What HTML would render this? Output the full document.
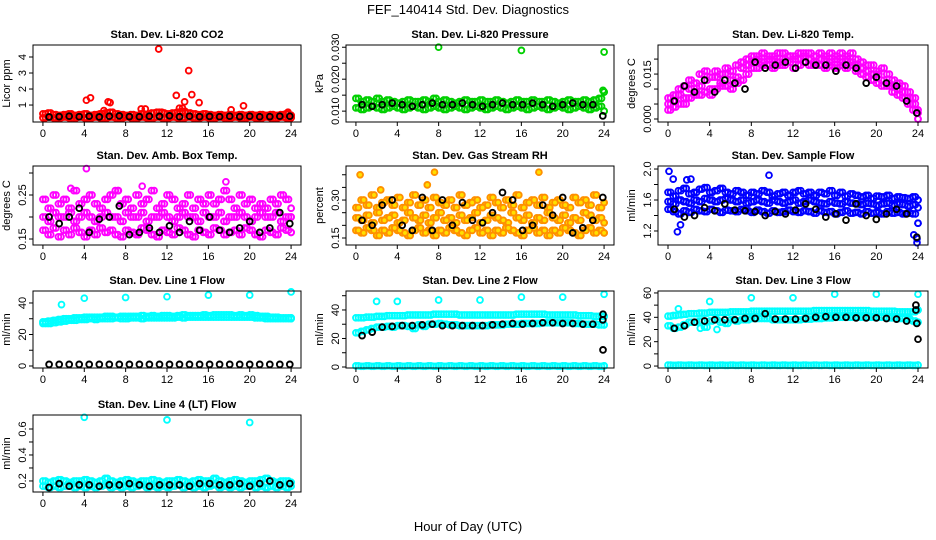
<!DOCTYPE html>
<html><head><meta charset="utf-8"><style>
html,body{margin:0;padding:0;background:#fff;}
svg{display:block;font-family:"Liberation Sans",sans-serif;}
</style></head><body>
<svg id="chart" width="936" height="540" viewBox="0 0 936 540">
<text x="468" y="14" text-anchor="middle" font-size="13">FEF_140414  Std. Dev. Diagnostics</text>
<text x="468" y="531" text-anchor="middle" font-size="13">Hour of Day (UTC)</text>
</svg>
<script>
// ---- data ----
const xTicks = [0,4,8,12,16,20,24];
const co2A = [0.45,0.5,0.4,0.35,0.4,0.45,0.35,0.4,0.45,0.35,0.4,0.45,0.5,0.55,0.45,0.4,0.35,0.4,0.35,0.45,0.4,0.5,0.55,0.5,0.45,0.5,0.55,0.6,0.5,0.45,0.4,0.45,0.4,0.35,0.4,0.35,0.4,0.35,0.4,0.35,0.4,0.35,0.4,0.35,0.4,0.35,0.4,0.45,0.35];
const co2B = [0.2,0.25,0.2,0.2,0.25,0.2,0.2,0.25,0.2,0.2,0.25,0.2,0.2,0.25,0.2,0.2,0.25,0.2,0.2,0.25,0.2,0.2,0.25,0.2,0.2,0.25,0.2,0.2,0.25,0.2,0.2,0.25,0.2,0.2,0.25,0.2,0.2,0.25,0.2,0.2,0.25,0.2,0.2,0.25,0.2,0.2,0.25,0.2,0.2];
const co2Black = [0.25,0.28,0.3,0.27,0.3,0.26,0.3,0.32,0.28,0.27,0.3,0.29,0.33,0.27,0.3,0.28,0.29,0.27,0.3,0.28,0.3,0.27,0.28,0.3,0.3];
const co2OutX = [4.2,4.6,6.3,6.5,5.9,9.5,9.9,11.2,11.5,12.9,13.2,13.5,13.7,14.1,14.4,15.1,18.2,19.4,23.7];
const co2OutY = [1.3,1.45,1.2,1.15,0.65,0.75,0.75,4.5,0.55,1.6,0.8,0.8,1.2,3.15,1.65,1.15,0.7,0.95,0.55];

const pressA = [0.014,0.013,0.0135,0.013,0.014,0.013,0.0135,0.013,0.0125,0.013,0.0135,0.013,0.013,0.0135,0.013,0.014,0.013,0.0135,0.013,0.0125,0.013,0.0135,0.013,0.013,0.0135,0.013,0.013,0.0135,0.013,0.0125,0.013,0.0135,0.013,0.013,0.0135,0.013,0.013,0.0135,0.013,0.0125,0.013,0.0135,0.013,0.013,0.0135,0.013,0.0135,0.014,0.016];
const pressB = [0.011,0.0105,0.011,0.0115,0.011,0.0105,0.011,0.0115,0.011,0.0105,0.011,0.0115,0.011,0.0105,0.011,0.0115,0.011,0.0105,0.011,0.0115,0.011,0.0105,0.011,0.0115,0.011,0.0105,0.011,0.0115,0.011,0.0105,0.011,0.0115,0.011,0.0105,0.011,0.0115,0.011,0.0105,0.011,0.0115,0.011,0.0105,0.011,0.0115,0.011,0.0105,0.011,0.0115,0.010];
const pressBlack = [0.012,0.0115,0.012,0.0125,0.012,0.0115,0.012,0.0125,0.012,0.012,0.0125,0.012,0.0115,0.012,0.0125,0.012,0.012,0.0125,0.012,0.0115,0.012,0.0125,0.012,0.012,0.0085];
const pressOutX = [8,16,24,23.9];
const pressOutY = [0.030,0.029,0.0285,0.0165];

const tempA = [.007,.008,.010,.011,.013,.012,.015,.016,.014,.016,.015,.017,.016,.018,.019,.020,.021,.021,.022,.021,.021,.022,.022,.021,.021,.022,.022,.022,.021,.022,.021,.022,.021,.022,.021,.022,.020,.019,.018,.018,.016,.017,.015,.013,.012,.011,.009,.007,.003];
const tempB = [.003,.004,.005,.005,.007,.008,.008,.009,.008,.010,.011,.011,.010,.012,.013,.015,.017,.017,.018,.018,.017,.018,.018,.019,.017,.018,.019,.018,.018,.018,.017,.018,.017,.018,.017,.018,.016,.015,.014,.013,.012,.011,.011,.009,.008,.007,.005,.003,.000];
const tempC = [.005,.006,.008,.007,.010,.009,.011,.013,.010,.014,.012,.015,.013,.014,.017,.018,.019,.020,.019,.020,.020,.019,.020,.021,.020,.020,.021,.020,.019,.020,.020,.019,.020,.019,.020,.019,.018,.017,.016,.015,.015,.013,.012,.011,.010,.009,.007,.005,.002];
const tempBlack = [.006,.011,.009,.013,.009,.013,.012,.010,.019,.017,.018,.019,.017,.019,.018,.018,.016,.018,.017,.012,.014,.012,.011,.006,.002];

const ambA = [0.24,0.22,0.25,0.23,0.24,0.22,0.26,0.23,0.24,0.25,0.23,0.22,0.24,0.25,0.26,0.23,0.24,0.22,0.25,0.23,0.24,0.26,0.22,0.23,0.25,0.24,0.22,0.23,0.25,0.22,0.24,0.23,0.25,0.23,0.24,0.26,0.24,0.22,0.25,0.23,0.24,0.22,0.23,0.22,0.24,0.23,0.25,0.24,0.22];
const ambB = [0.2,0.19,0.21,0.2,0.2,0.21,0.19,0.2,0.21,0.2,0.19,0.2,0.21,0.2,0.2,0.19,0.21,0.2,0.2,0.21,0.19,0.2,0.2,0.21,0.2,0.19,0.2,0.21,0.2,0.2,0.19,0.21,0.2,0.2,0.21,0.19,0.2,0.2,0.21,0.2,0.19,0.2,0.21,0.2,0.2,0.21,0.19,0.2,0.2];
const ambC = [0.17,0.16,0.175,0.155,0.17,0.16,0.175,0.165,0.155,0.17,0.16,0.175,0.165,0.17,0.16,0.155,0.17,0.165,0.16,0.175,0.17,0.16,0.155,0.17,0.165,0.16,0.175,0.17,0.16,0.155,0.17,0.165,0.16,0.175,0.17,0.16,0.165,0.17,0.16,0.175,0.17,0.16,0.155,0.17,0.165,0.16,0.175,0.17,0.165];
const ambBlack = [0.2,0.185,0.2,0.22,0.165,0.195,0.2,0.225,0.16,0.165,0.175,0.165,0.18,0.165,0.19,0.17,0.2,0.17,0.165,0.175,0.19,0.165,0.175,0.21,0.185];
const ambOutX = [4.2,17.7,2.7,9.6,7.3];
const ambOutY = [0.31,0.28,0.265,0.27,0.26];

const rhA = [0.27,0.3,0.28,0.32,0.27,0.29,0.3,0.28,0.31,0.27,0.29,0.32,0.28,0.3,0.27,0.31,0.29,0.28,0.3,0.27,0.32,0.28,0.29,0.3,0.27,0.28,0.31,0.29,0.27,0.3,0.28,0.32,0.27,0.29,0.3,0.28,0.31,0.27,0.29,0.3,0.28,0.27,0.31,0.29,0.3,0.28,0.32,0.27,0.29];
const rhB = [0.23,0.22,0.24,0.21,0.25,0.22,0.23,0.24,0.21,0.22,0.25,0.23,0.22,0.24,0.21,0.23,0.25,0.22,0.23,0.21,0.24,0.22,0.23,0.25,0.21,0.22,0.24,0.23,0.22,0.21,0.25,0.23,0.22,0.24,0.21,0.23,0.22,0.25,0.23,0.22,0.24,0.21,0.23,0.22,0.25,0.24,0.22,0.23,0.21];
const rhC = [0.18,0.17,0.19,0.18,0.16,0.18,0.17,0.19,0.18,0.17,0.16,0.18,0.19,0.17,0.18,0.16,0.18,0.17,0.19,0.18,0.17,0.16,0.18,0.19,0.17,0.18,0.16,0.18,0.17,0.19,0.18,0.17,0.16,0.18,0.19,0.17,0.18,0.16,0.18,0.17,0.19,0.18,0.17,0.16,0.18,0.19,0.17,0.18,0.17];
const rhBlack = [0.22,0.2,0.28,0.3,0.2,0.18,0.31,0.18,0.3,0.2,0.29,0.22,0.21,0.25,0.33,0.3,0.18,0.2,0.28,0.24,0.31,0.17,0.19,0.22,0.31];
const rhOutX = [0.4,7.6,6.9,17.7,2.4];
const rhOutY = [0.40,0.41,0.36,0.41,0.34];

const flowA = [1.7,1.65,1.72,1.75,1.68,1.7,1.74,1.76,1.7,1.72,1.75,1.7,1.68,1.72,1.7,1.66,1.7,1.68,1.72,1.7,1.65,1.68,1.7,1.66,1.7,1.72,1.68,1.7,1.66,1.7,1.68,1.72,1.66,1.7,1.65,1.68,1.66,1.64,1.66,1.62,1.65,1.64,1.66,1.62,1.64,1.63,1.62,1.64,1.6];
const flowB = [1.58,1.55,1.6,1.58,1.56,1.6,1.58,1.62,1.6,1.58,1.6,1.62,1.6,1.58,1.6,1.56,1.58,1.6,1.58,1.56,1.6,1.58,1.56,1.58,1.6,1.56,1.58,1.6,1.58,1.56,1.55,1.58,1.56,1.55,1.58,1.56,1.55,1.54,1.56,1.55,1.53,1.55,1.56,1.53,1.55,1.54,1.52,1.54,1.5];
const flowC = [1.48,1.45,1.42,1.46,1.44,1.48,1.46,1.45,1.48,1.46,1.44,1.47,1.46,1.45,1.48,1.46,1.44,1.47,1.45,1.43,1.46,1.44,1.45,1.47,1.45,1.44,1.46,1.45,1.43,1.46,1.44,1.45,1.42,1.44,1.46,1.43,1.44,1.42,1.45,1.43,1.44,1.42,1.45,1.43,1.44,1.42,1.43,1.42,1.3];
const flowBlack = [1.48,1.38,1.4,1.5,1.46,1.55,1.47,1.46,1.45,1.4,1.45,1.42,1.47,1.55,1.48,1.38,1.42,1.34,1.55,1.4,1.35,1.42,1.48,1.42,1.12];
const flowOutX = [0.1,0.5,0.9,1.8,2.2,9.7,23.6,23.9,23.9,1.2];
const flowOutY = [1.97,1.87,1.19,1.86,1.87,1.92,1.15,1.1,1.05,1.28];

const l1A = [28,28.5,29,29.5,30,30,30.5,30.5,31,31,31,31,31.5,31.5,31,31.5,31.5,31.5,31.5,32,31.5,32,31.5,32,32,31.5,32,32.5,32,32,32,32.5,32,32.5,32.5,32.5,32.5,32,32.5,32,32.5,32,31.5,31.5,31,31,30.5,30.5,30.5];
const l1B = [27,27,27.5,28,28.5,29,29,29.5,29.5,30,29.5,30,30,30,30.5,30,30,30.5,30.5,30,30.5,30.5,30.5,30.5,30.5,30.5,31,30.5,31,31,31,31,31,31,31,31,31,31,31,31,31,30.5,30.5,30,30,30,30,30,30];
const l1Black = [1,1,1,1,1,1,1,1,1,1,1,1,1,1,1,1,1,1,1,1,1,1,1,1,1];
const l1OutX = [1.8,4,8,12,16,20,24];
const l1OutY = [39,43,43.5,44,45,45,47];

const l2A = [34.5,34.5,35,35,35.5,35.5,36,36,36,36,36.5,36.5,36.5,36.5,36.5,37,37,37,37,37,36.5,36.5,36.5,36.5,36.5,36.5,36.5,36.5,36.5,36.5,36.5,37,37,37,37,37,37,36.5,36.5,36.5,36.5,36.5,36.5,36,36,36,35.5,35.5,35.5];
const l2B = [24,25,26,27,28,28,28.5,28,29,29,28.5,27,29.5,28.5,30,30,30.5,30,29.5,29.5,29,29,29,29,29,29,29.5,29.5,29.5,30,30,30,30.5,30.5,30.5,30.5,31,31,31,31,31,31,30.5,30.5,30,30,30,29.5,29.5];
const l2Zero = [0.8,0.5,0.8,0.5,0.8,0.5,0.8,0.5,0.8,0.5,0.8,0.5,0.8,0.5,0.8,0.5,0.8,0.5,0.8,0.5,0.8,0.5,0.8,0.5,0.8,0.5,0.8,0.5,0.8,0.5,0.8,0.5,0.8,0.5,0.8,0.5,0.8,0.5,0.8,0.5,0.8,0.5,0.8,0.5,0.8,0.5,0.8,0.5,0.8];
const l2Black = [22,24.5,28,28.5,29,29,29.5,30,29,29,29,29,29,29.5,30,30.5,30,30.5,31,31,30.5,30.5,30,30,33];
const l2OutX = [2,4,8,12,16,20,24];
const l2OutY = [46,46,47,47,49,49,51];
const l2BlackOutX = [23.9,23.9];
const l2BlackOutY = [37,12];

const l3A = [41,41.5,42,42.5,43,43,43.5,43.5,44,44,44,44,44.5,44.5,44.5,44.5,45,45,45,45,45,45,45,45,45,45,45,45,45.5,45.5,45.5,45.5,45.5,45.5,45.5,45.5,45.5,45.5,45.5,45,45,45,45,45,44.5,44.5,44.5,44.5,46];
const l3B = [33,31,32,34,36,36,37,32,37,38,36,35,38,37,38,38,39,39,39,39,38,38,38,38,38,38,38.5,38.5,39,39,39.5,39.5,40,40,40,40,40,40,40,40,40,40,39.5,39.5,39,39,38.5,37,36];
const l3Zero = [0.8,0.5,0.8,0.5,0.8,0.5,0.8,0.5,0.8,0.5,0.8,0.5,0.8,0.5,0.8,0.5,0.8,0.5,0.8,0.5,0.8,0.5,0.8,0.5,0.8,0.5,0.8,0.5,0.8,0.5,0.8,0.5,0.8,0.5,0.8,0.5,0.8,0.5,0.8,0.5,0.8,0.5,0.8,0.5,0.8,0.5,0.8,0.5,0.8];
const l3Black = [31,33,36,37,38,38,38,39,39,43,38.5,38.5,38.5,39,40,40.5,40,40,39.5,39.5,39.5,39,38.5,37,35];
const l3OutX = [1,4,8,12,16,20,24,3.1,4.7];
const l3OutY = [47,53,56,56,59,59,59,31,30];
const l3BlackOutX = [23.8,23.8,24];
const l3BlackOutY = [50,46,22];

const l4A = [0.2,0.19,0.2,0.21,0.2,0.19,0.2,0.2,0.21,0.2,0.19,0.2,0.22,0.2,0.19,0.2,0.21,0.2,0.19,0.2,0.2,0.21,0.2,0.19,0.2,0.2,0.21,0.2,0.19,0.2,0.21,0.2,0.2,0.22,0.2,0.19,0.2,0.21,0.2,0.19,0.2,0.2,0.21,0.22,0.2,0.19,0.2,0.2,0.19];
const l4B = [0.16,0.15,0.16,0.15,0.16,0.17,0.15,0.16,0.15,0.16,0.15,0.16,0.17,0.15,0.16,0.15,0.16,0.15,0.16,0.17,0.15,0.16,0.15,0.16,0.15,0.16,0.17,0.15,0.16,0.15,0.16,0.15,0.16,0.17,0.15,0.16,0.15,0.16,0.15,0.16,0.17,0.15,0.16,0.15,0.16,0.15,0.16,0.15,0.16];
const l4Black = [0.15,0.18,0.16,0.17,0.17,0.16,0.17,0.17,0.18,0.17,0.16,0.17,0.17,0.17,0.16,0.18,0.18,0.17,0.17,0.18,0.16,0.18,0.2,0.17,0.18];
const l4OutX = [4,12,20];
const l4OutY = [0.69,0.67,0.65];

// ---- drawing ----
const NS = "http://www.w3.org/2000/svg";
const svg = document.getElementById("chart");
const cols = [[33,301],[346,614],[658,928]];
const rows = [[45,122],[166,245],[291,368],[415,492]];
const XMIN = -0.96, XMAX = 24.96;
function halfX(n){ const a=[]; for(let i=0;i<n;i++) a.push(i*0.5); return a; }
function blackX(n){ const a=[]; for(let i=0;i<n;i++) a.push(0.6+i*0.97); return a; }
function mk(tag, attrs, parent){ const e=document.createElementNS(NS,tag); for(const k in attrs) e.setAttribute(k,attrs[k]); parent.appendChild(e); return e; }

function panel(p){
  const [x0,x1] = cols[p.col], [y0,y1] = rows[p.row];
  const g = mk("g",{},svg);
  
  
  const sx = v => x0 + (v - XMIN) / (XMAX - XMIN) * (x1 - x0);
  const sy = v => y1 - (v - p.ymin) / (p.ymax - p.ymin) * (y1 - y0);
  const t = mk("text",{x:(x0+x1)/2,y:y0-7,"text-anchor":"middle","font-size":"11","font-weight":"bold"},g);
  t.textContent = p.title;
  
  
  const yl = mk("text",{transform:`translate(${x0-23},${(y0+y1)/2}) rotate(-90)`,"text-anchor":"middle","font-size":"11"},g);
  yl.textContent = p.ylab;
  
  
  const pg = mk("g",{fill:"none"},g);
  
  
  p.series.forEach(s => {
    const black = s.color === "#000";
    const offs = (!black && s.xs.length > 40) ? [0, 0.25] : [0];
    offs.forEach(o => {
      s.ys.forEach((v,i) => {
        const c = mk("circle",{cx:sx(Math.min(s.xs[i]+o,24)).toFixed(1),cy:sy(v).toFixed(1),r:2.9,stroke:s.color,"stroke-width":1.9,fill:s.fill||"none"},pg);
        
        
      });
    });
  });
  const box = mk("rect",{x:x0,y:y0,width:x1-x0,height:y1-y0,fill:"none",stroke:"#000","stroke-width":1},g);
  
  
  const xa = mk("g",{},g);
  
  
  mk("line",{x1:sx(xTicks[0]),x2:sx(xTicks[xTicks.length-1]),y1:y1,y2:y1,stroke:"#000"},xa);
  xTicks.forEach(v => {
    mk("line",{x1:sx(v),x2:sx(v),y1:y1,y2:y1+4,stroke:"#000"},xa);
    const tl = mk("text",{x:sx(v),y:y1+15,"text-anchor":"middle","font-size":"11"},xa);
    tl.textContent = v;
    
    
  });
  const ya = mk("g",{},g);
  
  
  mk("line",{x1:x0,x2:x0,y1:sy(p.yticks[0]),y2:sy(p.yticks[p.yticks.length-1]),stroke:"#000"},ya);
  p.yticks.forEach(v => mk("line",{x1:x0-4,x2:x0,y1:sy(v),y2:sy(v),stroke:"#000"},ya));
  p.ylabels.forEach(v => {
    const yt = mk("text",{transform:`translate(${x0-7},${sy(+v)}) rotate(-90)`,"text-anchor":"middle","font-size":"11"},ya);
    yt.textContent = v;
    
    
  });
}
const H = halfX(49), B = blackX(25);
panel({name:"co2-panel",col:0,row:0,title:"Stan. Dev. Li-820 CO2",ylab:"Licor ppm",ymin:-0.06,ymax:4.75,yticks:[1,2,3,4],ylabels:["1","2","3","4"],
  series:[{xs:H,ys:co2A,color:"#f00",nm:"co2-point"},{xs:H,ys:co2B,color:"#f00",nm:"co2-point"},{xs:co2OutX,ys:co2OutY,color:"#f00",nm:"co2-point"},{xs:B,ys:co2Black,color:"#000",nm:"co2-black-point"}]});
panel({name:"pressure-panel",col:1,row:0,title:"Stan. Dev. Li-820 Pressure",ylab:"kPa",ymin:0.0066,ymax:0.0307,yticks:[0.010,0.015,0.020,0.025,0.030],ylabels:["0.010","0.020","0.030"],
  series:[{xs:H,ys:pressA,color:"#00d000",nm:"pressure-point"},{xs:H,ys:pressB,color:"#00d000",nm:"pressure-point"},{xs:pressOutX,ys:pressOutY,color:"#00d000",nm:"pressure-point"},{xs:B,ys:pressBlack,color:"#000",nm:"pressure-black-point"}]});
panel({name:"temp-panel",col:2,row:0,title:"Stan. Dev. Li-820 Temp.",ylab:"degrees C",ymin:-0.001,ymax:0.0247,yticks:[0,0.005,0.01,0.015,0.02],ylabels:["0.000","0.015"],
  series:[{xs:H,ys:tempA,color:"#f0f",nm:"temp-point"},{xs:H,ys:tempB,color:"#f0f",nm:"temp-point"},{xs:H,ys:tempC,color:"#f0f",nm:"temp-point"},{xs:B,ys:tempBlack,color:"#000",nm:"temp-black-point"}]});
panel({name:"amb-box-temp-panel",col:0,row:1,title:"Stan. Dev. Amb. Box Temp.",ylab:"degrees C",ymin:0.1364,ymax:0.3159,yticks:[0.15,0.20,0.25,0.30],ylabels:["0.15","0.25"],
  series:[{xs:H,ys:ambA,color:"#f0f",nm:"amb-point"},{xs:H,ys:ambB,color:"#f0f",nm:"amb-point"},{xs:H,ys:ambC,color:"#f0f",nm:"amb-point"},{xs:ambOutX,ys:ambOutY,color:"#f0f",nm:"amb-point"},{xs:B,ys:ambBlack,color:"#000",nm:"amb-black-point"}]});
panel({name:"rh-panel",col:1,row:1,title:"Stan. Dev. Gas Stream RH",ylab:"percent",ymin:0.1223,ymax:0.4346,yticks:[0.15,0.20,0.25,0.30,0.35,0.40],ylabels:["0.15","0.30"],
  series:[{xs:H,ys:rhA,color:"#ff9000",fill:"#ffe000",nm:"rh-point"},{xs:H,ys:rhB,color:"#ff9000",fill:"#ffe000",nm:"rh-point"},{xs:H,ys:rhC,color:"#ff9000",fill:"#ffe000",nm:"rh-point"},{xs:rhOutX,ys:rhOutY,color:"#ff9000",fill:"#ffe000",nm:"rh-point"},{xs:B,ys:rhBlack,color:"#000",nm:"rh-black-point"}]});
panel({name:"sample-flow-panel",col:2,row:1,title:"Stan. Dev. Sample Flow",ylab:"ml/min",ymin:1.019,ymax:2.039,yticks:[1.2,1.4,1.6,1.8,2.0],ylabels:["1.2","1.6","2.0"],
  series:[{xs:H,ys:flowA,color:"#00f",nm:"flow-point"},{xs:H,ys:flowB,color:"#00f",nm:"flow-point"},{xs:H,ys:flowC,color:"#00f",nm:"flow-point"},{xs:flowOutX,ys:flowOutY,color:"#00f",nm:"flow-point"},{xs:B,ys:flowBlack,color:"#000",nm:"flow-black-point"}]});
panel({name:"line1-flow-panel",col:0,row:2,title:"Stan. Dev. Line 1 Flow",ylab:"ml/min",ymin:-1.27,ymax:47.6,yticks:[0,10,20,30,40],ylabels:["0","20","40"],
  series:[{xs:H,ys:l1A,color:"#0ff",nm:"line1-point"},{xs:H,ys:l1B,color:"#0ff",nm:"line1-point"},{xs:l1OutX,ys:l1OutY,color:"#0ff",nm:"line1-point"},{xs:B,ys:l1Black,color:"#000",nm:"line1-black-point"}]});
panel({name:"line2-flow-panel",col:1,row:2,title:"Stan. Dev. Line 2 Flow",ylab:"ml/min",ymin:-0.7,ymax:53.3,yticks:[0,10,20,30,40,50],ylabels:["0","20","40"],
  series:[{xs:H,ys:l2A,color:"#0ff",nm:"line2-point"},{xs:H,ys:l2B,color:"#0ff",nm:"line2-point"},{xs:H,ys:l2Zero,color:"#0ff",nm:"line2-point"},{xs:l2OutX,ys:l2OutY,color:"#0ff",nm:"line2-point"},{xs:B,ys:l2Black,color:"#000",nm:"line2-black-point"},{xs:l2BlackOutX,ys:l2BlackOutY,color:"#000",nm:"line2-black-point"}]});
panel({name:"line3-flow-panel",col:2,row:2,title:"Stan. Dev. Line 3 Flow",ylab:"ml/min",ymin:-1.6,ymax:61.6,yticks:[0,10,20,30,40,50,60],ylabels:["0","20","40","60"],
  series:[{xs:H,ys:l3A,color:"#0ff",nm:"line3-point"},{xs:H,ys:l3B,color:"#0ff",nm:"line3-point"},{xs:H,ys:l3Zero,color:"#0ff",nm:"line3-point"},{xs:l3OutX,ys:l3OutY,color:"#0ff",nm:"line3-point"},{xs:B,ys:l3Black,color:"#000",nm:"line3-black-point"},{xs:l3BlackOutX,ys:l3BlackOutY,color:"#000",nm:"line3-black-point"}]});
panel({name:"line4-flow-panel",col:0,row:3,title:"Stan. Dev. Line 4 (LT) Flow",ylab:"ml/min",ymin:0.115,ymax:0.7077,yticks:[0.2,0.3,0.4,0.5,0.6],ylabels:["0.2","0.4","0.6"],
  series:[{xs:H,ys:l4A,color:"#0ff",nm:"line4-point"},{xs:H,ys:l4B,color:"#0ff",nm:"line4-point"},{xs:l4OutX,ys:l4OutY,color:"#0ff",nm:"line4-point"},{xs:B,ys:l4Black,color:"#000",nm:"line4-black-point"}]});
</script>
</body></html>
